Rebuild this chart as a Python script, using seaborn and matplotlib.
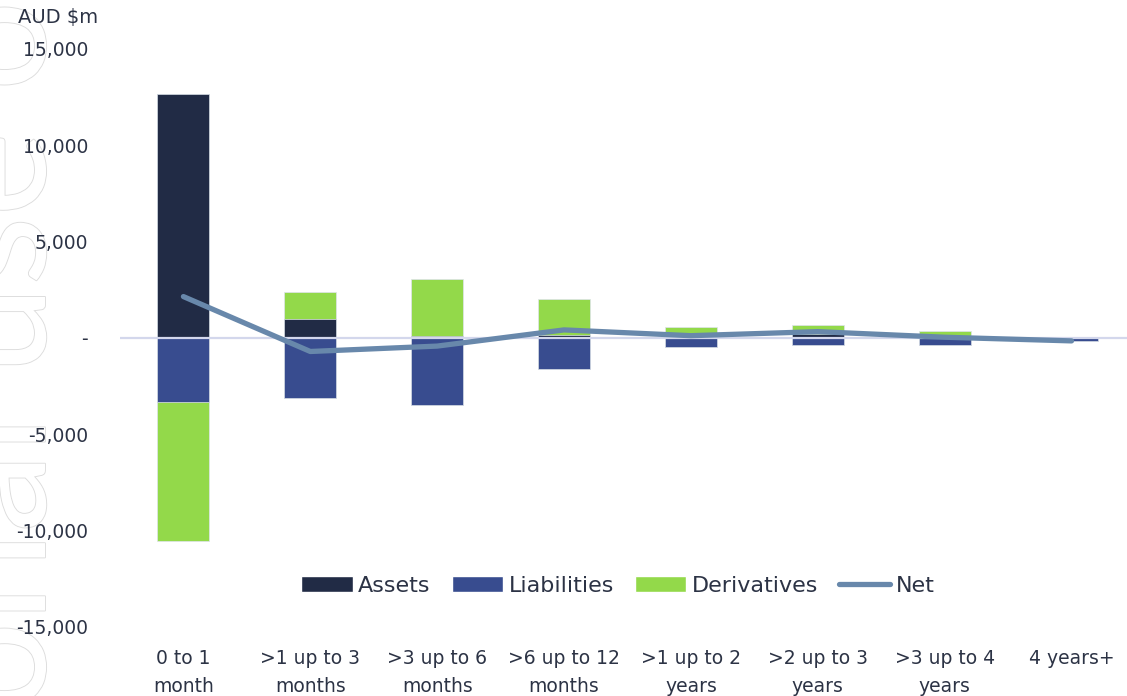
import numpy as np
import pandas as pd
import matplotlib
matplotlib.use("Agg")
import matplotlib.pyplot as plt
import matplotlib.patheffects as pe
from matplotlib.ticker import FuncFormatter, MultipleLocator
from matplotlib.patches import Patch
from matplotlib.lines import Line2D
import seaborn as sns

# ---- data (AUD $m) ----
categories = ["0 to 1\nmonth", ">1 up to 3\nmonths", ">3 up to 6\nmonths", ">6 up to 12\nmonths",
              ">1 up to 2\nyears", ">2 up to 3\nyears", ">3 up to 4\nyears", "4 years+"]
assets = [12650, 990, 100, 150, 80, 200, 30, 0]
liabilities = [-3320, -3110, -3480, -1610, -470, -380, -360, -150]
derivatives = [-7220, 1400, 2960, 1870, 470, 490, 330, 0]
net = [2150, -700, -420, 420, 120, 330, 40, -150]

C_ASSETS = "#212b45"
C_LIAB = "#384c8f"
C_DERIV = "#93d94a"
C_NET = "#6888ab"
C_TEXT = "#2c3345"

sns.set_theme(style="white")
plt.rcParams["font.family"] = ["DejaVu Sans"]

W, H = 1127, 696
fig = plt.figure(figsize=(W / 100, H / 100), dpi=100)
ax = fig.add_axes([120 / W, 1 - 627 / H, (1135 - 120) / W, (627 - 49) / H])

df = pd.DataFrame({"cat": categories, "assets": assets, "liab": liabilities,
                   "deriv": derivatives, "net": net})
df["pos_total"] = df["assets"] + df["deriv"].clip(lower=0)
df["neg_total"] = df["liab"] + df["deriv"].clip(upper=0)

bw = 0.41
common = dict(x="cat", order=categories, width=bw, saturation=1, ax=ax,
              edgecolor="#dfe3ee", linewidth=0.5, zorder=2)
# positive side: derivatives stacked on top of assets
sns.barplot(data=df, y="pos_total", color=C_DERIV, **common)
sns.barplot(data=df, y="assets", color=C_ASSETS, **common)
# negative side: derivatives stacked below liabilities
sns.barplot(data=df, y="neg_total", color=C_DERIV, **common)
sns.barplot(data=df, y="liab", color=C_LIAB, **common)

ax.axhline(0, color="#d3d7ec", lw=1.6, zorder=3)

sns.lineplot(data=df, x="cat", y="net", sort=False, color=C_NET, lw=3.8,
             solid_capstyle="round", solid_joinstyle="round", ax=ax, zorder=4)

ax.set_xlim(-0.5, 7.5)
ax.set_ylim(-15000, 15000)
ax.yaxis.set_major_locator(MultipleLocator(5000))
ax.yaxis.set_major_formatter(FuncFormatter(lambda v, p: "-" if abs(v) < 1e-6 else f"{v:,.0f}"))
ax.set_xlabel("")
ax.set_ylabel("")
for s in ax.spines.values():
    s.set_visible(False)
ax.tick_params(axis="y", length=0, pad=23, labelsize=13.5, labelcolor=C_TEXT)
ax.tick_params(axis="x", length=0, pad=15.5, labelsize=13.5, labelcolor=C_TEXT)
for lab in ax.get_xticklabels():
    lab.set_linespacing(1.6)
ax.grid(False)

fig.text(18 / W, 1 - 8 / H, "AUD $m", ha="left", va="top", fontsize=14, color=C_TEXT)

handles = [Patch(facecolor=C_ASSETS, label="Assets"),
           Patch(facecolor=C_LIAB, label="Liabilities"),
           Patch(facecolor=C_DERIV, label="Derivatives"),
           Line2D([0], [0], color=C_NET, lw=3.8, solid_capstyle="round", label="Net")]
leg = ax.legend(handles=handles, loc="center", bbox_to_anchor=(618 / W, 1 - 586 / H),
                bbox_transform=fig.transFigure, ncol=4, frameon=False, fontsize=16,
                handlelength=2.3, handleheight=0.7, handletextpad=0.25, columnspacing=0.95)
for t in leg.get_texts():
    t.set_color(C_TEXT)

# watermark along the left edge
wm_font = dict(fontsize=115, family=["Lato", "DejaVu Sans"])
renderer = fig.canvas.get_renderer()
tmp1 = fig.text(0, 0, "For personal u", **wm_font)
tmp2 = fig.text(0, 0, "u", **wm_font)
w_full = tmp1.get_window_extent(renderer).width
w_u = tmp2.get_window_extent(renderer).width
tmp1.remove()
tmp2.remove()
u_center_y = H - 330
start_y = u_center_y - (w_full - w_u / 2)
fig.text(45 / W, start_y / H, "For personal use only", rotation=90, rotation_mode="anchor",
         ha="left", va="baseline", color="white", zorder=-5,
         path_effects=[pe.Stroke(linewidth=1.3, foreground="#dcdcdc"), pe.Normal()],
         **wm_font)

fig.savefig("out.png", dpi=100)
